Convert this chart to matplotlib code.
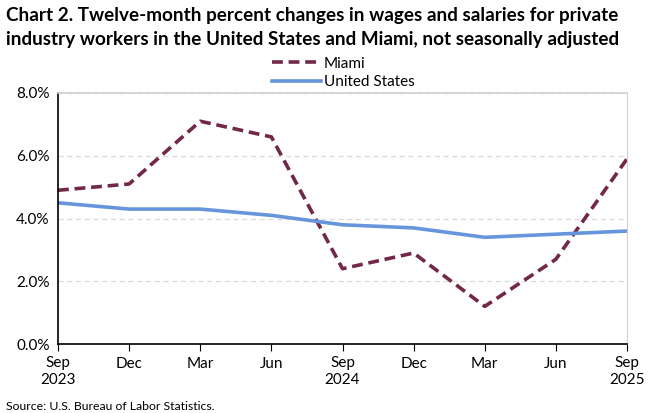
import matplotlib
matplotlib.use("Agg")
import matplotlib.pyplot as plt
from matplotlib.ticker import FuncFormatter
import numpy as np

# data
months = ["Sep\n2023", "Dec", "Mar", "Jun", "Sep\n2024", "Dec", "Mar", "Jun", "Sep\n2025"]
miami = [4.9, 5.1, 7.1, 6.6, 2.4, 2.9, 1.2, 2.7, 5.9]
united_states = [4.5, 4.3, 4.3, 4.1, 3.8, 3.7, 3.4, 3.5, 3.6]

plt.rcParams['font.family'] = ['Lato', 'DejaVu Sans']

fig = plt.figure(figsize=(6.67, 4.13), dpi=100)
ax = fig.add_axes([58/667, 1 - 344/413, (627 - 58)/667, (344 - 93)/413])

x = np.arange(len(months))
l1, = ax.plot(x, miami, color='#722848', lw=2.6, ls=(0, (3, 1.6)), label='Miami')
l2, = ax.plot(x, united_states, color='#6795DB', lw=2.6, label='United States')

ax.set_xlim(0, len(months) - 1)
ax.set_ylim(0, 8)
ax.set_yticks([0, 2, 4, 6, 8])
ax.yaxis.set_major_formatter(FuncFormatter(lambda v, p: f"{v:.1f}%"))
ax.set_xticks(x)
ax.set_xticklabels(months)
ax.tick_params(axis='y', length=0, labelsize=11, pad=6)
ax.tick_params(axis='x', length=5, direction='out', labelsize=11, pad=4, color='black')
ax.grid(axis='y', color='#D9D9D9', ls=(0, (4, 3)), lw=0.9)
ax.spines['left'].set_color('black')
ax.spines['bottom'].set_color('black')
ax.spines['top'].set_color('#D0D0D0')
ax.spines['right'].set_color('#D0D0D0')
ax.spines['top'].set_linewidth(1.2)
ax.spines['left'].set_linewidth(1.2)
ax.spines['bottom'].set_linewidth(1.2)
for lab in ax.get_xticklabels():
    lab.set_linespacing(1.25)

fig.legend(handles=[l1, l2], loc='center', bbox_to_anchor=(343/667, 1 - 73/413),
           frameon=False, fontsize=11, handlelength=3.2, handletextpad=0.2,
           labelspacing=0.3)

fig.text(6/667, 1 - 15/413, "Chart 2. Twelve-month percent changes in wages and salaries for private",
         fontsize=13.6, fontweight='bold', va='center', ha='left')
fig.text(6/667, 1 - 40/413, "industry workers in the United States and Miami, not seasonally adjusted",
         fontsize=13.6, fontweight='bold', va='center', ha='left')
fig.text(6/667, 1 - 406/413, "Source: U.S. Bureau of Labor Statistics.", fontsize=8.8,
         va='center', ha='left')

fig.savefig("out.png", dpi=100)
